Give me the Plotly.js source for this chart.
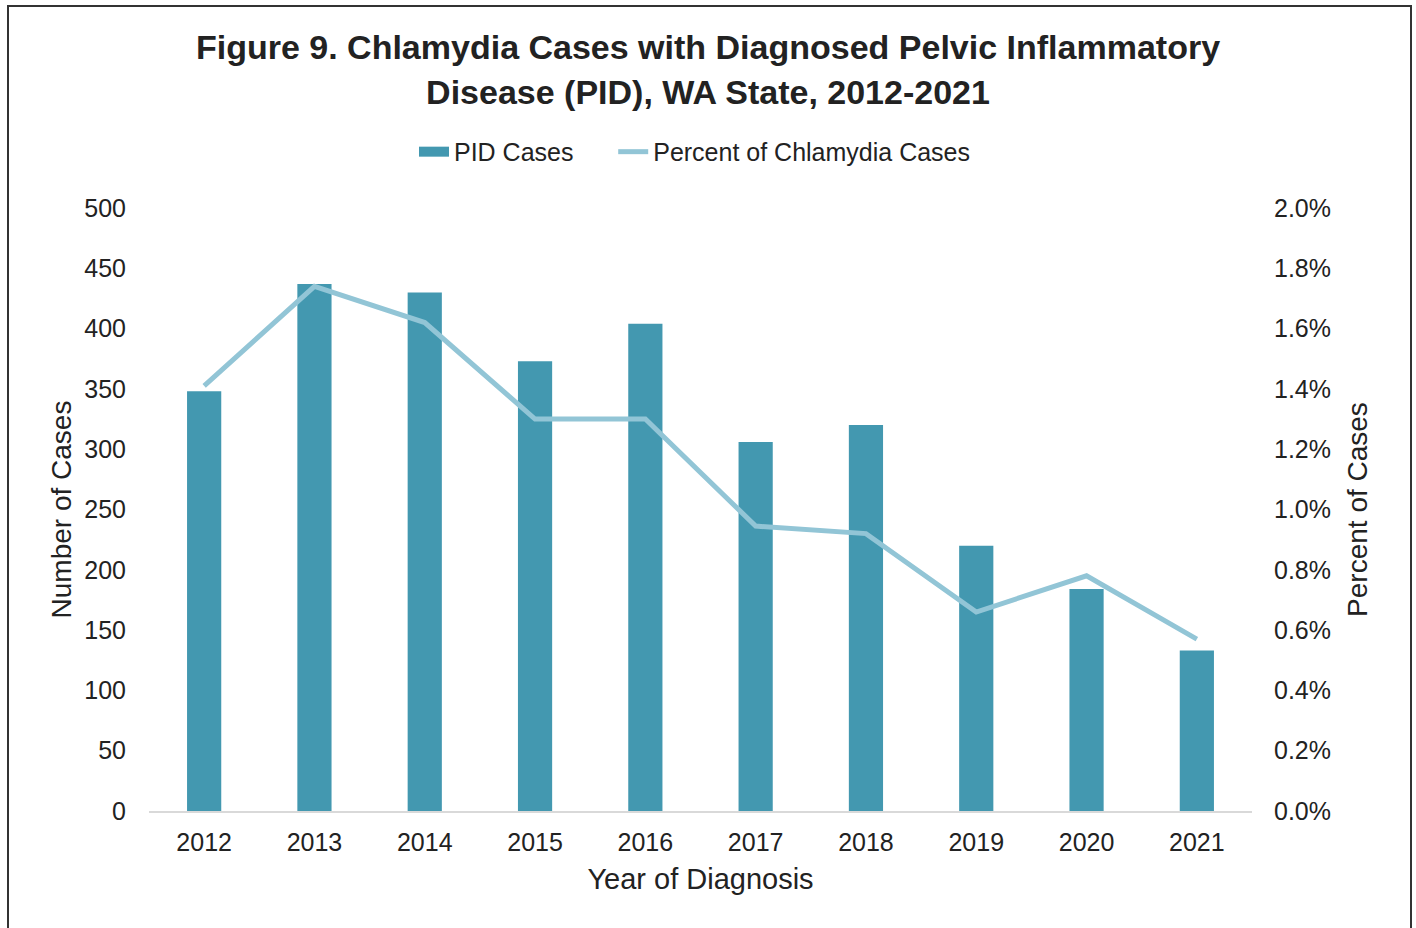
<!DOCTYPE html>
<html>
<head>
<meta charset="utf-8">
<script src="https://cdn.plot.ly/plotly-3.0.1.min.js"></script>
<style>
html,body{margin:0;padding:0;background:#fff;}
#chart{position:absolute;left:0;top:0;width:1416px;height:928px;}
#frame{position:absolute;left:7px;top:5px;width:1401px;height:940px;border:2px solid #333;pointer-events:none;}
</style>
</head>
<body>
<div id="chart"></div>
<div id="frame"></div>
<script>
const years = ['2012','2013','2014','2015','2016','2017','2018','2019','2020','2021'];
const pidCases = [348, 437, 430, 373, 404, 306, 320, 220, 184, 133];
const pctChlamydia = [0.0141, 0.0174, 0.0162, 0.0130, 0.0130, 0.00945, 0.0092, 0.0066, 0.0078, 0.0057];

const barColor = '#4398b0';
const lineColor = '#92c5d6';
const font = 'Liberation Sans, Arial, sans-serif';
const data = [
  {type:'bar', name:'PID Cases', x:years, y:pidCases, marker:{color:barColor}, yaxis:'y', showlegend:false},
  {type:'scatter', mode:'lines', name:'Percent of Chlamydia Cases', x:years, y:pctChlamydia,
   line:{color:lineColor, width:5}, yaxis:'y2', showlegend:false},
  // legend-only entries (no points drawn)
  {type:'scatter', mode:'lines', name:'PID Cases&nbsp;&nbsp;&nbsp;&nbsp;&nbsp;', x:[null], y:[null],
   line:{color:barColor, width:14}, yaxis:'y', showlegend:true},
  {type:'scatter', mode:'lines', name:'Percent of Chlamydia Cases', x:[null], y:[null],
   line:{color:lineColor, width:5}, yaxis:'y2', showlegend:true}
];
const layout = {
  width:1416, height:928,
  margin:{l:149, r:164, t:208, b:117},
  paper_bgcolor:'rgba(0,0,0,0)', plot_bgcolor:'#fff',
  font:{family:font, color:'#222', size:25},
  title:{text:'<b>Figure 9. Chlamydia Cases with Diagnosed Pelvic Inflammatory<br>Disease (PID), WA State, 2012-2021</b>',
         x:0.5, xref:'container', xanchor:'center', y:0.936, yanchor:'top', font:{size:34, color:'#222'}},
  bargap:0.69,
  showlegend:true,
  legend:{orientation:'h', x:0.495, xanchor:'center', y:1.093, yanchor:'middle', font:{size:25},
          traceorder:'normal'},
  xaxis:{type:'category', dtick:1, showgrid:false, showline:true, linecolor:'#d9d9d9', linewidth:1.5, zeroline:false,
         ticks:'outside', tickcolor:'rgba(0,0,0,0)', ticklen:8,
         title:{text:'Year of Diagnosis', font:{size:29}, standoff:14}},
  yaxis:{range:[0,500], dtick:50, showgrid:false, zeroline:false, showline:false,
         ticks:'outside', tickcolor:'rgba(0,0,0,0)', ticklen:17,
         title:{text:'Number of Cases', font:{size:28}, standoff:4}},
  yaxis2:{range:[0,0.02], dtick:0.002, tickformat:'.1%', overlaying:'y', side:'right',
          showgrid:false, zeroline:false, showline:false,
          ticks:'outside', tickcolor:'rgba(0,0,0,0)', ticklen:16,
          title:{text:'Percent of Cases', font:{size:28}, standoff:17}}
};
Plotly.newPlot('chart', data, layout, {displayModeBar:false, staticPlot:true});
</script>
</body>
</html>
